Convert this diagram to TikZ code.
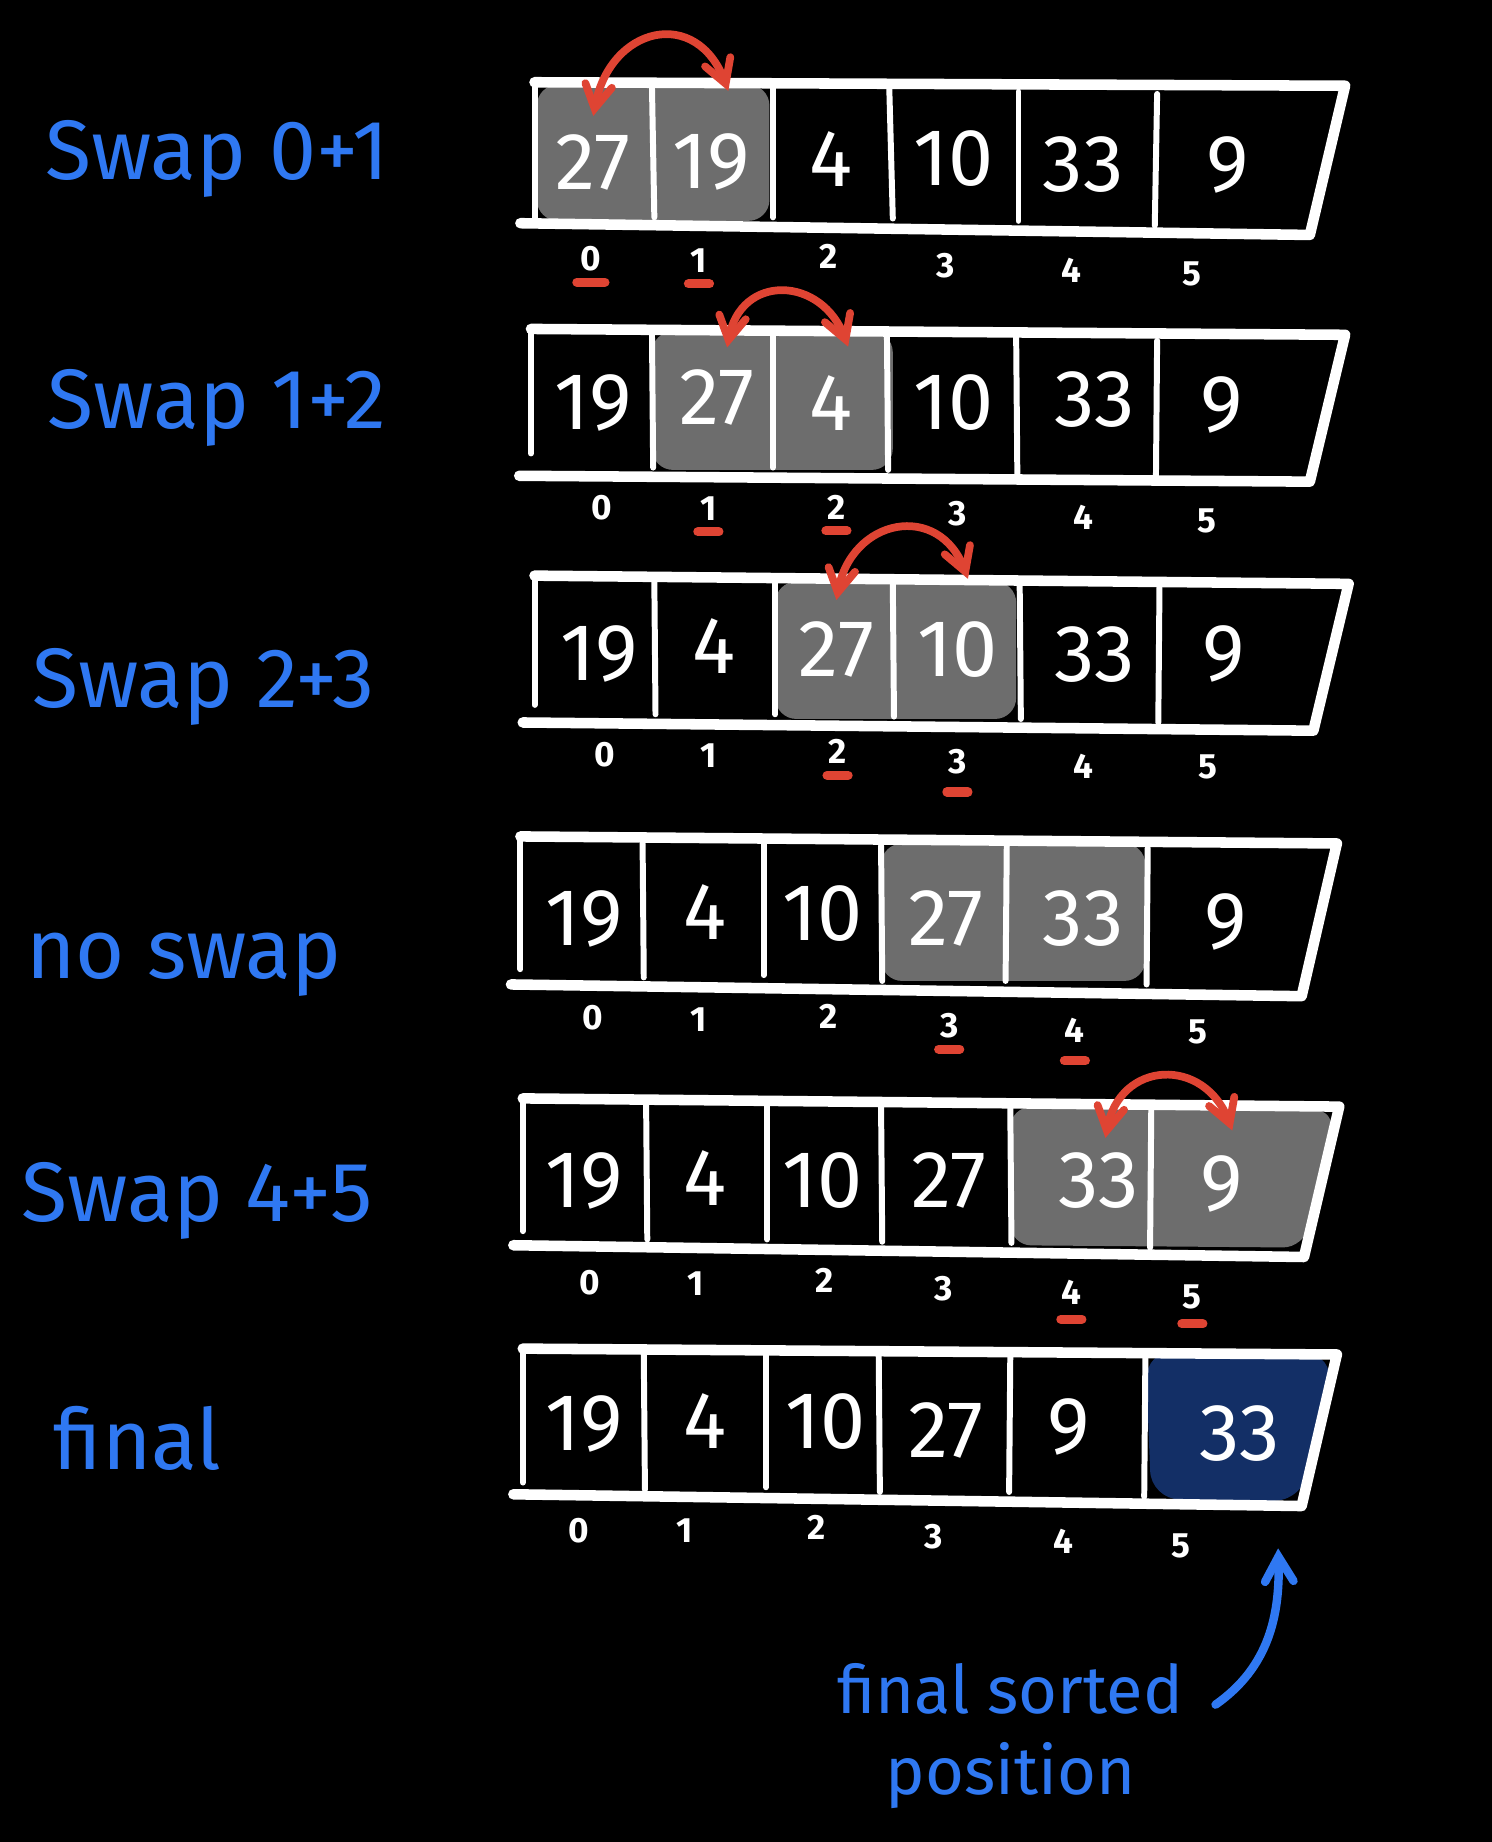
\documentclass[tikz,border=0pt]{standalone}
\usepackage{fontspec}
\setmainfont{Fira Sans}
\usepackage{xcolor}
\usepackage{tikz}
\usetikzlibrary{arrows}
\definecolor{penblue}{HTML}{2F78F2}
\definecolor{penred}{HTML}{DF4433}
\definecolor{cellgray}{HTML}{6D6D6D}
\definecolor{sortednavy}{HTML}{132F66}
\tikzstyle{steplabel} = [anchor=west,
    inner sep=0pt,
    text=penblue,
    font=\fontsize{24}{24}\selectfont]
\tikzstyle{value} = [inner sep=0pt,
    text=white,
    font=\fontsize{23}{23}\selectfont]
\tikzstyle{index} = [inner sep=1pt,
    text=white,
    font=\bfseries\fontsize{10}{10}\selectfont]
\tikzstyle{frame} = [draw=white, line width=3pt, line cap=round, line join=round]
\tikzstyle{divider} = [draw=white, line width=1.7pt, line cap=round]
\tikzstyle{hilite} = [fill=cellgray, rounded corners=6pt]
\tikzstyle{swaparrow} = [draw=penred, line width=2.2pt, line cap=round, <->, >=angle 60]
\tikzstyle{pickline} = [draw=penred, line width=2.6pt, line cap=round]
\tikzstyle{notearrow} = [draw=penblue, line width=2.4pt, line cap=round, ->, >=angle 60]

\begin{document}
\begin{tikzpicture}[x=0.011748cm, y=-0.011748cm]
        \fill[black] (0,0) rectangle (1270,1568);
        \useasboundingbox (0,0) rectangle (1270,1568);

        \node (label_1) [steplabel] at (38,135) {Swap 0+1};
        \node (label_2) [steplabel] at (40,347) {Swap 1+2};
        \node (label_3) [steplabel] at (27,585) {Swap 2+3};
        \node (label_4) [steplabel] at (22,821) {no swap};
        \node (label_5) [steplabel] at (18,1022) {Swap 4+5};
        \node (label_6) [steplabel] at (45,1224) {final};

        \fill[hilite] (457,72) rectangle (655,188);
        \draw[frame] (455,70) -- (1145,73) -- (1115,200) -- (443,190);
        \draw[divider] (455,72) -- (455,186);
        \draw[divider] (555,75) -- (557,185);
        \draw[divider] (658,72) -- (658,185);
        \draw[divider] (757,75) -- (760,186);
        \draw[divider] (867,78) -- (867,188);
        \draw[divider] (985,80) -- (983,192);
        \node (row1_v0) [value] at (505,138) {27};
        \node (row1_v1) [value] at (605,138) {19};
        \node (row1_v2) [value] at (707,135) {4};
        \node (row1_v3) [value] at (812,135) {10};
        \node (row1_v4) [value] at (922,140) {33};
        \node (row1_v5) [value] at (1045,140) {9};
        \node (row1_i0) [index] at (503,220) {0};
        \node (row1_i1) [index] at (595,222) {1};
        \node (row1_i2) [index] at (705,218) {2};
        \node (row1_i3) [index] at (805,226) {3};
        \node (row1_i4) [index] at (912,230) {4};
        \node (row1_i5) [index] at (1015,233) {5};
        \draw[pickline] ([xshift=-4pt,yshift=-2pt]row1_i0.south) -- ([xshift=4pt,yshift=-2pt]row1_i0.south);
        \draw[pickline] ([xshift=-3pt,yshift=-2pt]row1_i1.south) -- ([xshift=3pt,yshift=-2pt]row1_i1.south);
        \draw[swaparrow] ([yshift=5pt]row1_v0.north) to[out=80, in=110, looseness=1.7] ([xshift=5pt,yshift=12pt]row1_v1.north);

        \fill[hilite] (555,282) rectangle (760,400);
        \draw[frame] (452,280) -- (1145,285) -- (1115,410) -- (442,405);
        \draw[divider] (452,282) -- (452,386);
        \draw[divider] (555,285) -- (556,398);
        \draw[divider] (658,285) -- (658,398);
        \draw[divider] (755,285) -- (756,400);
        \draw[divider] (865,287) -- (866,403);
        \draw[divider] (985,290) -- (984,405);
        \node (row2_v0) [value] at (505,343) {19};
        \node (row2_v1) [value] at (610,338) {27};
        \node (row2_v2) [value] at (707,343) {4};
        \node (row2_v3) [value] at (812,343) {10};
        \node (row2_v4) [value] at (932,340) {33};
        \node (row2_v5) [value] at (1040,345) {9};
        \node (row2_i0) [index] at (512,432) {0};
        \node (row2_i1) [index] at (603,433) {1};
        \node (row2_i2) [index] at (712,432) {2};
        \node (row2_i3) [index] at (815,437) {3};
        \node (row2_i4) [index] at (922,440) {4};
        \node (row2_i5) [index] at (1027,443) {5};
        \draw[pickline] ([xshift=-3pt,yshift=-2pt]row2_i1.south) -- ([xshift=3pt,yshift=-2pt]row2_i1.south);
        \draw[pickline] ([xshift=-3pt,yshift=-2pt]row2_i2.south) -- ([xshift=3pt,yshift=-2pt]row2_i2.south);
        \draw[swaparrow] ([xshift=3pt,yshift=6pt]row2_v1.north) to[out=80, in=110, looseness=1.6] ([xshift=5pt,yshift=8pt]row2_v2.north);

        \fill[hilite] (660,495) rectangle (865,612);
        \draw[frame] (455,490) -- (1148,497) -- (1118,622) -- (445,615);
        \draw[divider] (455,492) -- (455,600);
        \draw[divider] (557,495) -- (558,608);
        \draw[divider] (660,495) -- (660,608);
        \draw[divider] (760,497) -- (761,610);
        \draw[divider] (868,498) -- (869,612);
        \draw[divider] (987,500) -- (986,615);
        \node (row3_v0) [value] at (510,557) {19};
        \node (row3_v1) [value] at (608,550) {4};
        \node (row3_v2) [value] at (712,553) {27};
        \node (row3_v3) [value] at (815,553) {10};
        \node (row3_v4) [value] at (932,557) {33};
        \node (row3_v5) [value] at (1042,557) {9};
        \node (row3_i0) [index] at (515,642) {0};
        \node (row3_i1) [index] at (603,643) {1};
        \node (row3_i2) [index] at (713,640) {2};
        \node (row3_i3) [index] at (815,648) {3};
        \node (row3_i4) [index] at (922,652) {4};
        \node (row3_i5) [index] at (1028,653) {5};
        \draw[pickline] ([xshift=-3pt,yshift=-2pt]row3_i2.south) -- ([xshift=3pt,yshift=-2pt]row3_i2.south);
        \draw[pickline] ([xshift=-3pt,yshift=-4pt]row3_i3.south) -- ([xshift=3pt,yshift=-4pt]row3_i3.south);
        \draw[swaparrow] ([yshift=6pt]row3_v2.north) to[out=80, in=110, looseness=1.6] ([xshift=3pt,yshift=12pt]row3_v3.north);

        \fill[hilite] (750,718) rectangle (975,835);
        \draw[frame] (443,712) -- (1138,718) -- (1108,848) -- (435,838);
        \draw[divider] (443,714) -- (443,825);
        \draw[divider] (547,718) -- (548,832);
        \draw[divider] (650,718) -- (650,830);
        \draw[divider] (750,720) -- (751,835);
        \draw[divider] (857,720) -- (856,835);
        \draw[divider] (977,722) -- (976,838);
        \node (row4_v0) [value] at (497,782) {19};
        \node (row4_v1) [value] at (600,776) {4};
        \node (row4_v2) [value] at (700,778) {10};
        \node (row4_v3) [value] at (805,782) {27};
        \node (row4_v4) [value] at (922,782) {33};
        \node (row4_v5) [value] at (1043,785) {9};
        \node (row4_i0) [index] at (505,866) {0};
        \node (row4_i1) [index] at (595,868) {1};
        \node (row4_i2) [index] at (705,865) {2};
        \node (row4_i3) [index] at (808,873) {3};
        \node (row4_i4) [index] at (915,877) {4};
        \node (row4_i5) [index] at (1020,878) {5};
        \draw[pickline] ([xshift=-3pt,yshift=-2pt]row4_i3.south) -- ([xshift=3pt,yshift=-2pt]row4_i3.south);
        \draw[pickline] ([xshift=-3pt,yshift=-4pt]row4_i4.south) -- ([xshift=3pt,yshift=-4pt]row4_i4.south);

        \fill[hilite] (860,942) -- (1137,945) -- (1110,1062) -- (860,1060) -- cycle;
        \draw[frame] (445,935) -- (1140,942) -- (1110,1070) -- (437,1060);
        \draw[divider] (445,937) -- (445,1048);
        \draw[divider] (550,940) -- (551,1055);
        \draw[divider] (653,940) -- (653,1055);
        \draw[divider] (750,942) -- (751,1057);
        \draw[divider] (860,943) -- (861,1058);
        \draw[divider] (980,945) -- (979,1062);
        \node (row5_v0) [value] at (497,1005) {19};
        \node (row5_v1) [value] at (600,1003) {4};
        \node (row5_v2) [value] at (700,1005) {10};
        \node (row5_v3) [value] at (808,1005) {27};
        \node (row5_v4) [value] at (935,1005) {33};
        \node (row5_v5) [value] at (1040,1008) {9};
        \node (row5_i0) [index] at (502,1092) {0};
        \node (row5_i1) [index] at (592,1093) {1};
        \node (row5_i2) [index] at (702,1090) {2};
        \node (row5_i3) [index] at (803,1097) {3};
        \node (row5_i4) [index] at (912,1100) {4};
        \node (row5_i5) [index] at (1015,1104) {5};
        \draw[pickline] ([xshift=-3pt,yshift=-3pt]row5_i4.south) -- ([xshift=3pt,yshift=-3pt]row5_i4.south);
        \draw[pickline] ([xshift=-3pt,yshift=-3pt]row5_i5.south) -- ([xshift=3pt,yshift=-3pt]row5_i5.south);
        \draw[swaparrow] ([xshift=2pt,yshift=4pt]row5_v4.north) to[out=80, in=110, looseness=1.6] ([xshift=3pt,yshift=7pt]row5_v5.north);

        \fill[sortednavy, rounded corners=8pt] (975,1150) -- (1136,1153) -- (1108,1278) -- (980,1276) -- cycle;
        \draw[frame] (445,1148) -- (1138,1153) -- (1108,1282) -- (437,1272);
        \draw[divider] (445,1150) -- (445,1262);
        \draw[divider] (548,1152) -- (549,1268);
        \draw[divider] (652,1152) -- (652,1266);
        \draw[divider] (748,1153) -- (749,1270);
        \draw[divider] (860,1155) -- (859,1270);
        \draw[divider] (975,1156) -- (974,1274);
        \node (row6_v0) [value] at (497,1212) {19};
        \node (row6_v1) [value] at (600,1210) {4};
        \node (row6_v2) [value] at (703,1210) {10};
        \node (row6_v3) [value] at (805,1218) {27};
        \node (row6_v4) [value] at (910,1215) {9};
        \node (row6_v5) [value] at (1055,1220) {33};
        \node (row6_i0) [index] at (493,1303) {0};
        \node (row6_i1) [index] at (583,1303) {1};
        \node (row6_i2) [index] at (695,1300) {2};
        \node (row6_i3) [index] at (795,1308) {3};
        \node (row6_i4) [index] at (905,1312) {4};
        \node (row6_i5) [index] at (1005,1316) {5};

        \node (sortnote) [align=center, inner sep=0pt, text=penblue, font=\fontsize{19}{23}\selectfont] at (860,1478) {final sorted\\position};
        \coordinate (sorttip) at (1088,1318);
        \draw[notearrow] ([xshift=9pt,yshift=9pt]sortnote.east) to[out=35, in=-88] (sorttip);
    \end{tikzpicture}
\end{document}
